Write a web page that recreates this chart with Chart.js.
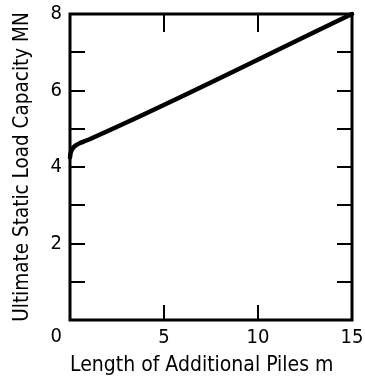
<!DOCTYPE html>
<html>
<head>
<meta charset="utf-8">
<script src="https://cdn.jsdelivr.net/npm/chart.js@4/dist/chart.umd.min.js"></script>
<style>
  html, body { margin: 0; padding: 0; background: #fff; }
  canvas { display: block; }
</style>
</head>
<body>
<canvas id="chart" width="365" height="383"></canvas>
<script>
// Additional pile length (m) against ultimate static load capacity (MN)
const pileLength = [0, 0.03, 0.1, 0.2, 0.35, 0.55, 0.8, 1.1, 15];
const loadCapacity = [4.25, 4.36, 4.45, 4.52, 4.58, 4.63, 4.68, 4.74, 8.0];

const xTickValues = [0, 5, 10, 15];
const yTickValues = [0, 2, 4, 6, 8];

const FONT = "'DejaVu Sans Condensed', 'DejaVu Sans', sans-serif";

// Frame with inward tick marks on all four sides, plus the shared origin "0"
const framePlugin = {
  id: 'frame',
  afterDatasetsDraw(chart) {
    const { ctx, chartArea: a, scales: { x, y } } = chart;
    ctx.save();
    ctx.strokeStyle = '#000';
    ctx.lineCap = 'square';
    ctx.lineWidth = 2;
    const len = 14;
    x.ticks.forEach(t => {
      if (t.value <= x.min || t.value >= x.max) return;
      const px = Math.round(x.getPixelForValue(t.value));
      ctx.beginPath();
      ctx.moveTo(px, a.bottom); ctx.lineTo(px, a.bottom - len);
      ctx.moveTo(px, a.top); ctx.lineTo(px, a.top + len + 3);
      ctx.stroke();
    });
    y.ticks.forEach(t => {
      if (t.value <= y.min || t.value >= y.max) return;
      const py = Math.round(y.getPixelForValue(t.value));
      ctx.beginPath();
      ctx.moveTo(a.left, py); ctx.lineTo(a.left + len, py);
      ctx.moveTo(a.right, py); ctx.lineTo(a.right - len, py);
      ctx.stroke();
    });
    ctx.lineWidth = 3;
    ctx.lineJoin = 'miter';
    ctx.strokeRect(a.left, a.top, a.right - a.left, a.bottom - a.top);

    ctx.fillStyle = '#000';
    ctx.font = '20px ' + FONT;
    ctx.textAlign = 'right';
    ctx.textBaseline = 'top';
    ctx.fillText('0', a.left - 8, a.bottom + 7);
    ctx.restore();
  }
};

// Invisible tick marks: they only set the gap between axis and labels
const hiddenGrid = (len) => ({
  display: true,
  drawOnChartArea: false,
  drawTicks: true,
  tickLength: len,
  color: 'rgba(0,0,0,0)'
});

new Chart(document.getElementById('chart'), {
  type: 'line',
  data: {
    datasets: [{
      data: pileLength.map((v, i) => ({ x: v, y: loadCapacity[i] })),
      borderColor: '#000',
      borderWidth: 4.5,
      pointRadius: 0,
      cubicInterpolationMode: 'monotone',
      borderCapStyle: 'round',
      clip: false
    }]
  },
  options: {
    responsive: false,
    animation: false,
    layout: { padding: { left: 0, right: 13, top: 14, bottom: 0 } },
    plugins: { legend: { display: false }, tooltip: { enabled: false } },
    scales: {
      x: {
        type: 'linear',
        min: 0, max: 15,
        afterFit(scale) { scale.height = 63; },
        afterBuildTicks(scale) { scale.ticks = xTickValues.map(v => ({ value: v })); },
        grid: hiddenGrid(6),
        border: { display: false },
        ticks: {
          color: '#000',
          padding: 0,
          maxRotation: 0,
          font: { family: FONT, size: 20 },
          callback: v => (v === 0 ? '' : String(v))
        },
        title: {
          display: true,
          align: 'start',
          text: 'Length of Additional Piles m',
          color: '#000',
          font: { family: FONT, size: 21 },
          padding: { top: 0, bottom: 5 }
        }
      },
      y: {
        type: 'linear',
        min: 0, max: 8,
        afterFit(scale) { scale.width = 70; },
        grid: hiddenGrid(8),
        border: { display: false },
        ticks: {
          stepSize: 1,
          color: '#000',
          padding: 0,
          font: { family: FONT, size: 20 },
          callback: v => (v !== 0 && yTickValues.includes(v) ? String(v) : '')
        },
        title: {
          display: true,
          text: 'Ultimate Static Load Capacity MN',
          color: '#000',
          font: { family: FONT, size: 20.5 },
          padding: { top: 10, bottom: 0 }
        }
      }
    }
  },
  plugins: [framePlugin]
});
</script>
</body>
</html>
